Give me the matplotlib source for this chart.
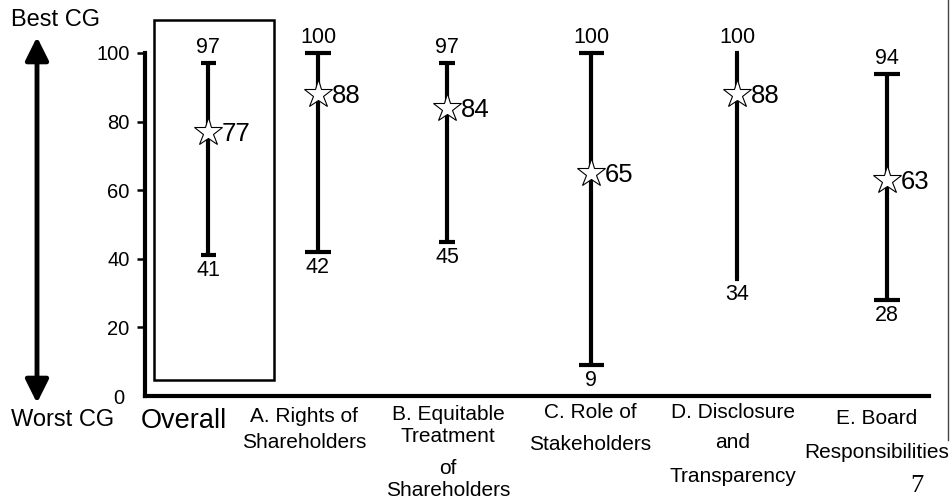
import matplotlib
matplotlib.use("Agg")
import matplotlib.pyplot as plt
from matplotlib.patches import Rectangle, FancyArrowPatch
from matplotlib.lines import Line2D

plt.rcParams['font.family'] = ['Liberation Sans', 'DejaVu Sans']

# ---- data ----
categories = ["Overall", "A. Rights of\nShareholders", "B. Equitable\nTreatment\nof\nShareholders",
              "C. Role of\nStakeholders", "D. Disclosure\nand\nTransparency", "E. Board\nResponsibilities"]
min_vals = [41, 42, 45, 9, 34, 28]
mean_vals = [77, 88, 84, 65, 88, 63]
max_vals = [97, 100, 97, 100, 100, 94]
y_ticks = [20, 40, 60, 80, 100]

# ---- layout ----
x_positions = [63, 173, 302, 446, 592, 742]      # category centres (axis units)
cap_widths_px = [15, 26, 16, 25, 5, 27]
label_x_px = [184, 304, 448, 590, 733, 877]      # label centres (figure px)
label_line_y_px = [[421], [417, 443], [414, 437, 468, 490], [413, 445], [413, 443, 477], [418, 453]]

DPI = 100
fig = plt.figure(figsize=(9.52, 5.01), dpi=DPI)
W, H = 952, 501
ax_left, ax_right, ax_bottom, ax_top = 145, 929, 396, 53
ax = fig.add_axes([ax_left / W, (H - ax_bottom) / H, (ax_right - ax_left) / W, (ax_bottom - ax_top) / H])
ax.set_xlim(0, ax_right - ax_left)
ax.set_ylim(0, 100)

for s in ['top', 'right']:
    ax.spines[s].set_visible(False)
ax.spines['left'].set_linewidth(3)
ax.spines['bottom'].set_linewidth(3)
ax.spines['left'].set_capstyle('projecting')
ax.set_xticks([])
ax.set_yticks(y_ticks)
ax.set_yticklabels([str(t) for t in y_ticks], fontsize=14.5)
ax.tick_params(axis='y', length=6, width=1.8, pad=5)
# "0" label, no tick
ax.annotate("0", xy=(0, 0), xycoords='data', xytext=(-21, -2), textcoords='offset pixels',
            ha='right', va='center', fontsize=14.5, annotation_clip=False)

pt = 72.0 / DPI
for i in range(len(categories)):
    x = x_positions[i]
    lo, mid, hi = min_vals[i], mean_vals[i], max_vals[i]
    cs = cap_widths_px[i] / 2 * pt
    ax.errorbar([x], [mid], yerr=[[mid - lo], [hi - mid]], fmt='none', ecolor='black',
                elinewidth=3, capsize=cs, capthick=3, clip_on=False, zorder=2)
    ax.plot([x], [mid], marker='*', markersize=21, mfc='white', mec='black', mew=0.8,
            linestyle='none', clip_on=False, zorder=3)
    ax.annotate(str(hi), xy=(x, hi), xytext=(0, 5), textcoords='offset pixels',
                ha='center', va='bottom', fontsize=15.5, annotation_clip=False)
    ax.annotate(str(lo), xy=(x, lo), xytext=(0, -5), textcoords='offset pixels',
                ha='center', va='top', fontsize=15.5, annotation_clip=False)
    ax.annotate(str(mid), xy=(x, mid), xytext=(14, -2), textcoords='offset pixels',
                ha='left', va='center', fontsize=18.5, annotation_clip=False)

# box around Overall
px_per_unit = (ax_bottom - ax_top) / 100.0
box_y0 = (ax_bottom - 380) / px_per_unit
box_y1 = (ax_bottom - 20) / px_per_unit
ax.add_patch(Rectangle((9, box_y0), 120, box_y1 - box_y0, fill=False, lw=1.8,
                       edgecolor='black', clip_on=False, zorder=1))


def fx(px):
    return px / W


def fy(py):
    return (H - py) / H


# category labels, line by line
for i, cat in enumerate(categories):
    lines = cat.split("\n")
    size = 19.5 if i == 0 else 15
    for line, ly in zip(lines, label_line_y_px[i]):
        fig.text(fx(label_x_px[i]), fy(ly), line, ha='center', va='center', fontsize=size)

# Best / Worst arrow
fig.text(fx(11), fy(20), "Best CG", ha='left', va='center', fontsize=17)
fig.text(fx(11), fy(420), "Worst CG", ha='left', va='center', fontsize=17)
arrow = FancyArrowPatch((fx(37), fy(37)), (fx(37), fy(403)), transform=fig.transFigure,
                        arrowstyle='<|-|>,head_length=14,head_width=7', lw=3.5,
                        color='black', mutation_scale=1.0, shrinkA=0, shrinkB=0)
fig.add_artist(arrow)

# page number and right border line
fig.text(fx(917), fy(486), "7", ha='center', va='center', fontsize=19,
         family=['Liberation Serif', 'DejaVu Serif'])
fig.add_artist(Line2D([fx(948), fx(948)], [fy(0), fy(440)], transform=fig.transFigure,
                      color='#444444', lw=1))

fig.savefig("out.png", dpi=DPI)
